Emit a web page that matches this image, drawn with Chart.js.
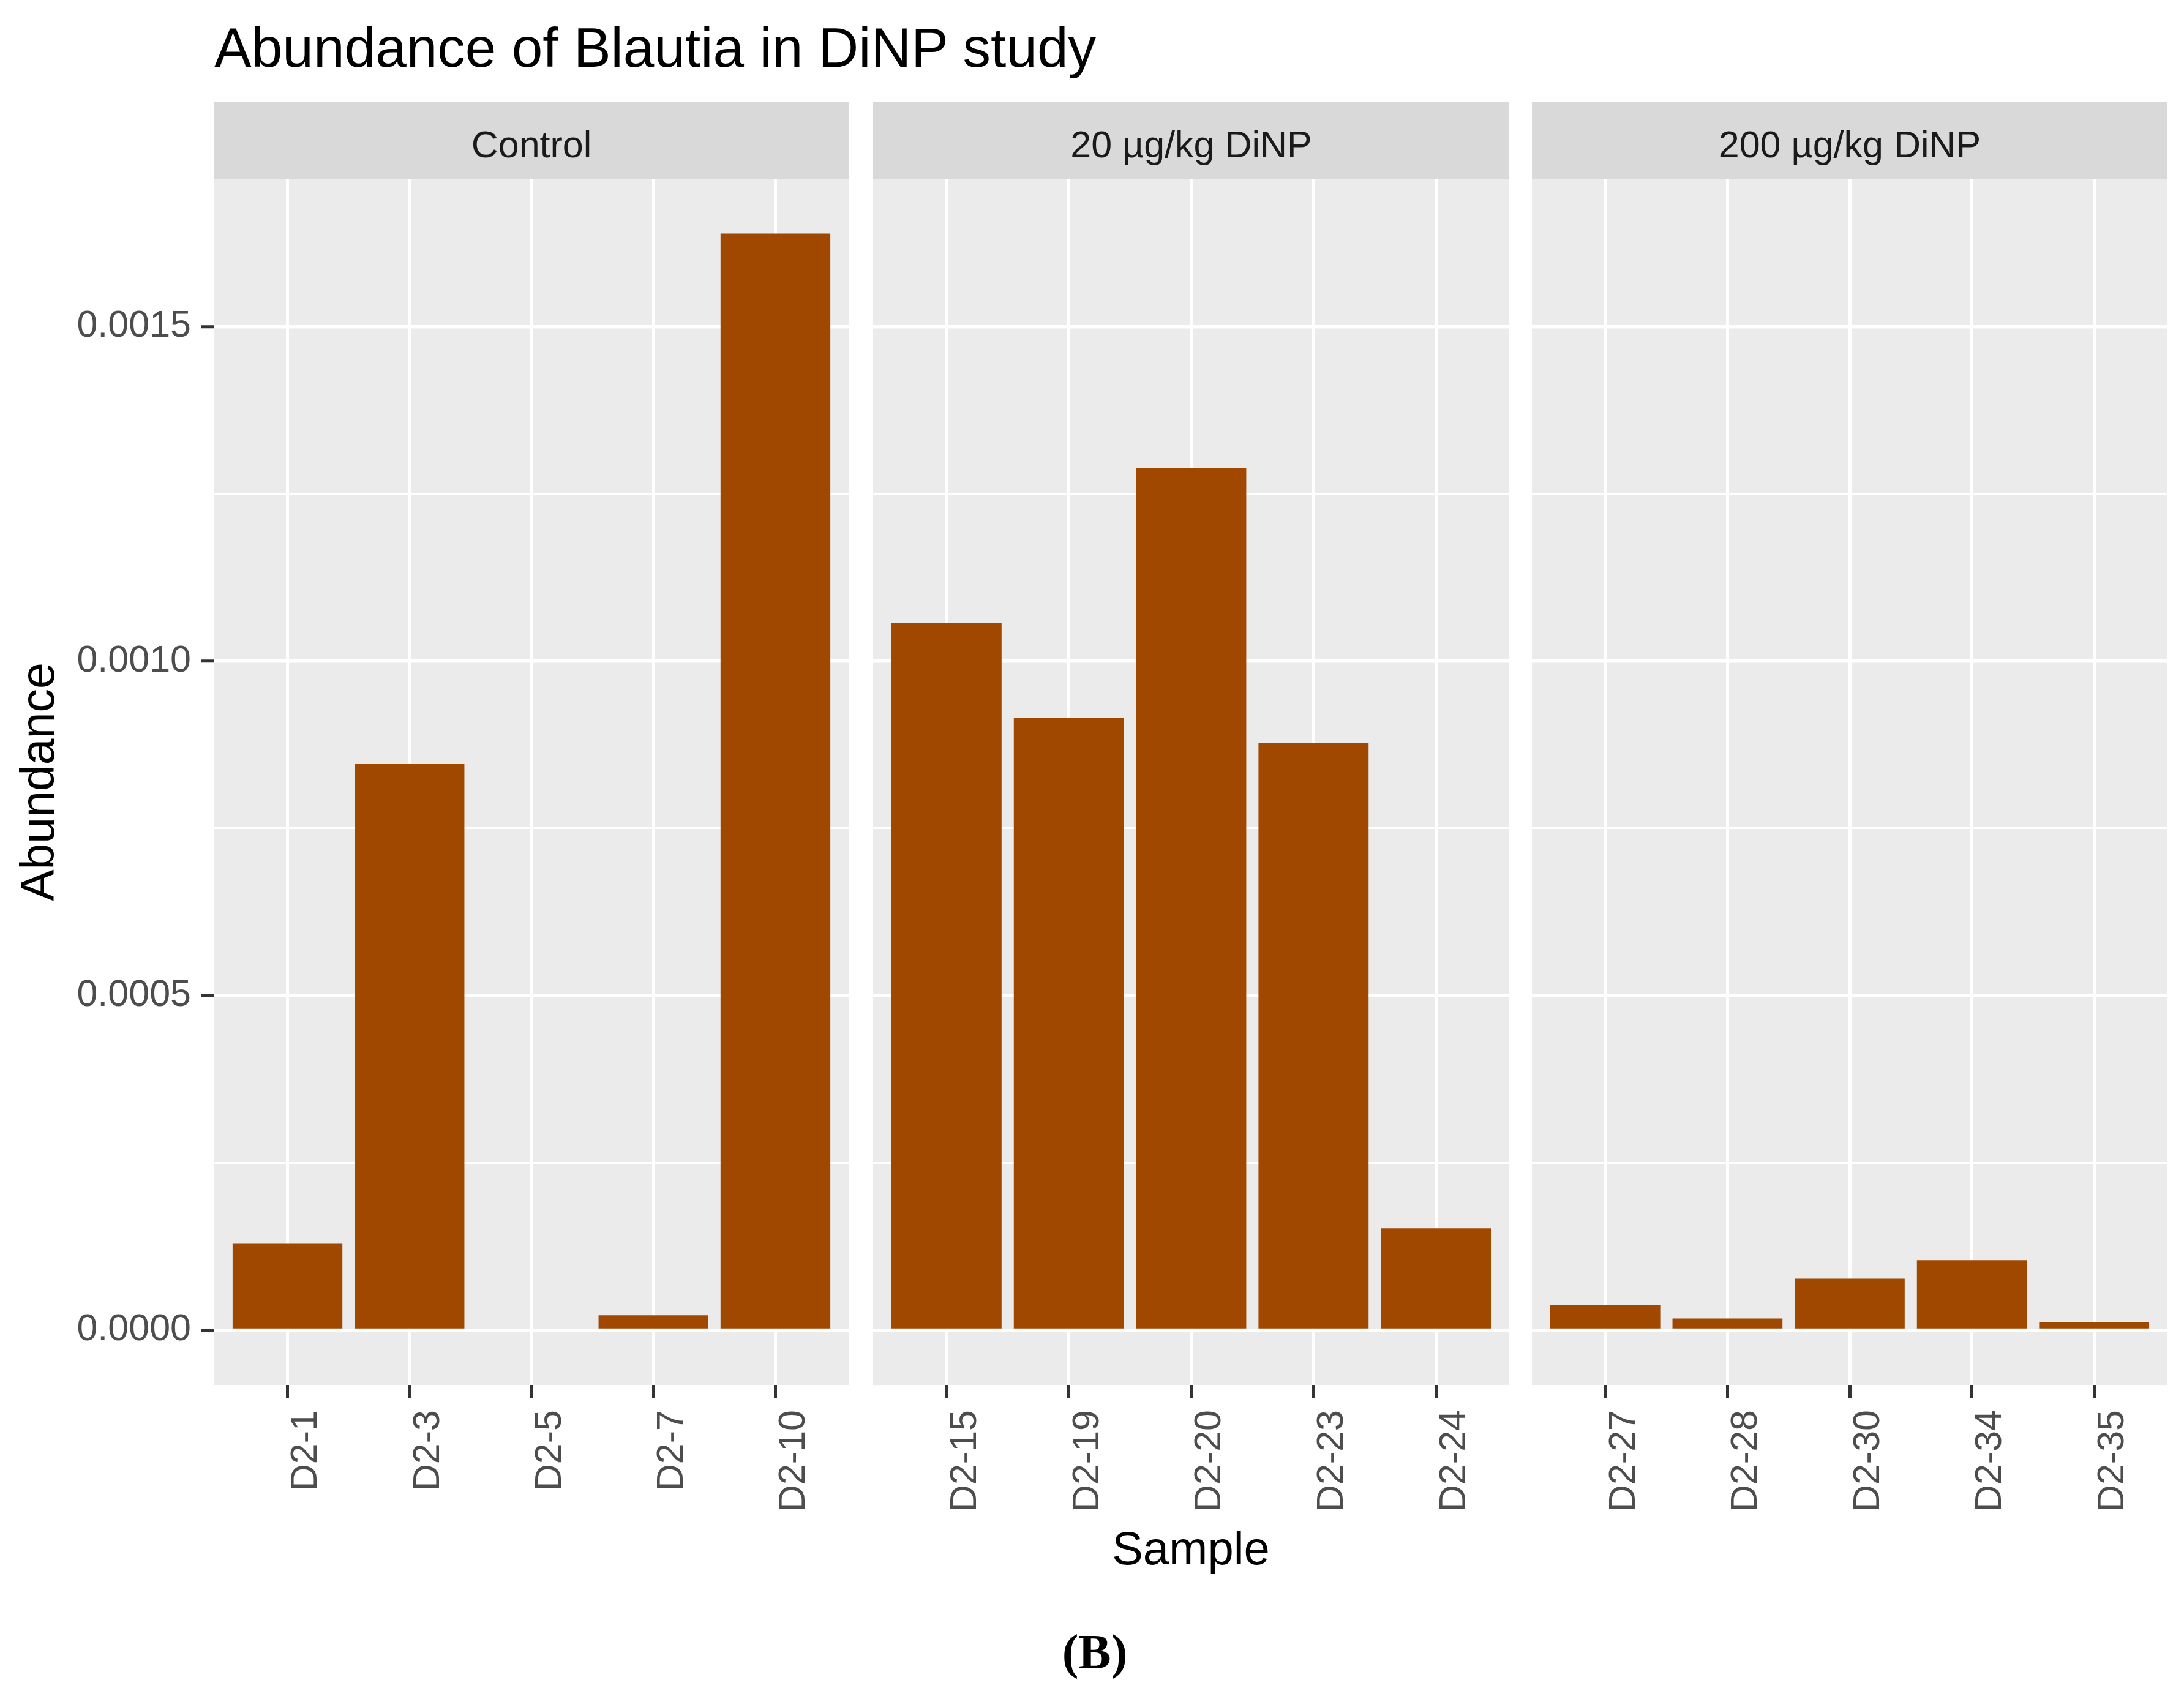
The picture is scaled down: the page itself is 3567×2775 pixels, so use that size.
<!DOCTYPE html>
<html>
<head>
<meta charset="utf-8">
<title>Abundance of Blautia in DiNP study</title>
<script src="https://cdn.jsdelivr.net/npm/chart.js@4.4.1/dist/chart.umd.min.js"></script>
<style>
  body { margin: 0; background: #fff; width: 3567px; height: 2775px; position: relative; overflow: hidden;
         font-family: "Liberation Sans", Arial, sans-serif; }
  canvas { position: absolute; top: 0; }
  .txt { position: absolute; line-height: 1; white-space: nowrap; color: #000; }
</style>
</head>
<body>
<div class="txt" style="left:350px;top:32px;font-size:91px;">Abundance of Blautia in DiNP study</div>
<canvas id="panel-0" width="1386" height="2480" style="left:0px"></canvas>
<canvas id="panel-1" width="1039" height="2480" style="left:1426px"></canvas>
<canvas id="panel-2" width="1038" height="2480" style="left:2502px"></canvas>
<div class="txt" style="left:350px;width:3190px;top:2491px;font-size:76px;text-align:center;">Sample</div>
<div class="txt" style="left:1688px;width:200px;top:2658px;font-size:80px;font-weight:bold;text-align:center;font-family:'Liberation Serif','Times New Roman',serif;">(B)</div>
<script>
// facet labels
const groups = ["Control", "20 µg/kg DiNP", "200 µg/kg DiNP"];

// samples and abundance per facet
const controlSamples = ["D2-1", "D2-3", "D2-5", "D2-7", "D2-10"];
const controlValues = [0.000129, 0.000846, 0, 0.0000222, 0.001639];

const dose20Samples = ["D2-15", "D2-19", "D2-20", "D2-23", "D2-24"];
const dose20Values = [0.001057, 0.000915, 0.001289, 0.000878, 0.000152];

const dose200Samples = ["D2-27", "D2-28", "D2-30", "D2-34", "D2-35"];
const dose200Values = [0.0000375, 0.0000174, 0.0000768, 0.0001045, 0.0000122];

// y axis breaks (major labelled, minor only gridlines)
const yMajorTicks = [0, 0.0005, 0.001, 0.0015];
const yMinorTicks = [0.00025, 0.00075, 0.00125];

const yMin = -0.000082;
const yMax = 0.001721;

const barColor = "#a04700";
const fontFamily = "'Liberation Sans', Arial, sans-serif";
const panelTop = 292;
const panelBottom = 2262;
const canvasHeight = 2480;
const stripHeight = 125;

const facets = [
	{ canvas: "panel-0", samples: controlSamples, values: controlValues },
	{ canvas: "panel-1", samples: dose20Samples, values: dose20Values },
	{ canvas: "panel-2", samples: dose200Samples, values: dose200Values },
];

const isMajor = ctx => ctx.tick && yMajorTicks.includes(ctx.tick.value);

// grey panel + facet strip, drawn under the grid
const facetStrip = {
	id: "facetStrip",
	beforeDraw(chart, args, opts) {
		const { ctx, chartArea } = chart;
		const { left, right, top, bottom } = chartArea;
		ctx.save();
		ctx.fillStyle = "#ebebeb";
		ctx.fillRect(left, top, right - left, bottom - top);
		ctx.fillStyle = "#d9d9d9";
		ctx.fillRect(left, top - stripHeight, right - left, stripHeight);
		ctx.fillStyle = "#1a1a1a";
		ctx.font = `61px ${fontFamily}`;
		ctx.textAlign = "center";
		ctx.textBaseline = "alphabetic";
		ctx.fillText(opts.label, (left + right) / 2, top - 35);
		ctx.restore();
	},
};

facets.forEach((facet, i) => {
	const first = i === 0;
	const { samples, values } = facet;

	const config = {
		type: "bar",
		plugins: [facetStrip],
		data: {
			datasets: [
				{
					data: values.map((v, k) => ({ x: k + 1, y: v })),
					backgroundColor: barColor,
					borderWidth: 0,
					categoryPercentage: 1,
					barPercentage: 0.9,
				},
			],
		},
		options: {
			responsive: false,
			animation: false,
			devicePixelRatio: 1,
			layout: { padding: { top: panelTop, left: 0, right: 0, bottom: 0 } },
			plugins: {
				legend: { display: false },
				tooltip: { enabled: false },
				facetStrip: { label: groups[i] },
			},
			scales: {
				x: {
					type: "linear",
					bounds: "data",
					offset: false,
					min: 0.4,
					max: samples.length + 0.6,
					afterBuildTicks: scale => {
						scale.ticks = samples.map((s, k) => ({ value: k + 1 }));
					},
					afterFit: scale => {
						scale.height = canvasHeight - panelBottom;
					},
					ticks: {
						autoSkip: false,
						minRotation: 90,
						maxRotation: 90,
						padding: 19,
						labelOffset: 31,
						color: "#4d4d4d",
						font: { family: fontFamily, size: 61 },
						callback: (value, k) => samples[k],
					},
					grid: {
						offset: false,
						color: "#ffffff",
						lineWidth: 5,
						tickLength: 22,
						tickColor: "#333333",
						tickWidth: 5,
					},
					border: { display: false },
				},
				y: {
					type: "linear",
					bounds: "data",
					min: yMin,
					max: yMax,
					afterBuildTicks: scale => {
						scale.ticks = [...yMajorTicks, ...yMinorTicks]
							.sort((a, b) => a - b)
							.map(value => ({ value }));
					},
					afterFit: scale => {
						scale.width = first ? 350 : 0;
					},
					ticks: {
						display: first,
						padding: 17,
						color: "#4d4d4d",
						font: { family: fontFamily, size: 61 },
						callback: value => (yMajorTicks.includes(value) ? value.toFixed(4) : ""),
					},
					grid: {
						color: "#ffffff",
						lineWidth: ctx => (isMajor(ctx) ? 5.5 : 3),
						drawTicks: first,
						tickLength: 21,
						tickColor: ctx => (isMajor(ctx) ? "#333333" : "rgba(0,0,0,0)"),
						tickWidth: 5,
					},
					border: { display: false },
					title: {
						display: first,
						text: "Abundance",
						color: "#000000",
						font: { family: fontFamily, size: 77 },
						padding: { top: 21, bottom: 0 },
					},
				},
			},
		},
	};

	new Chart(document.getElementById(facet.canvas), config);
});
</script>
</body>
</html>
